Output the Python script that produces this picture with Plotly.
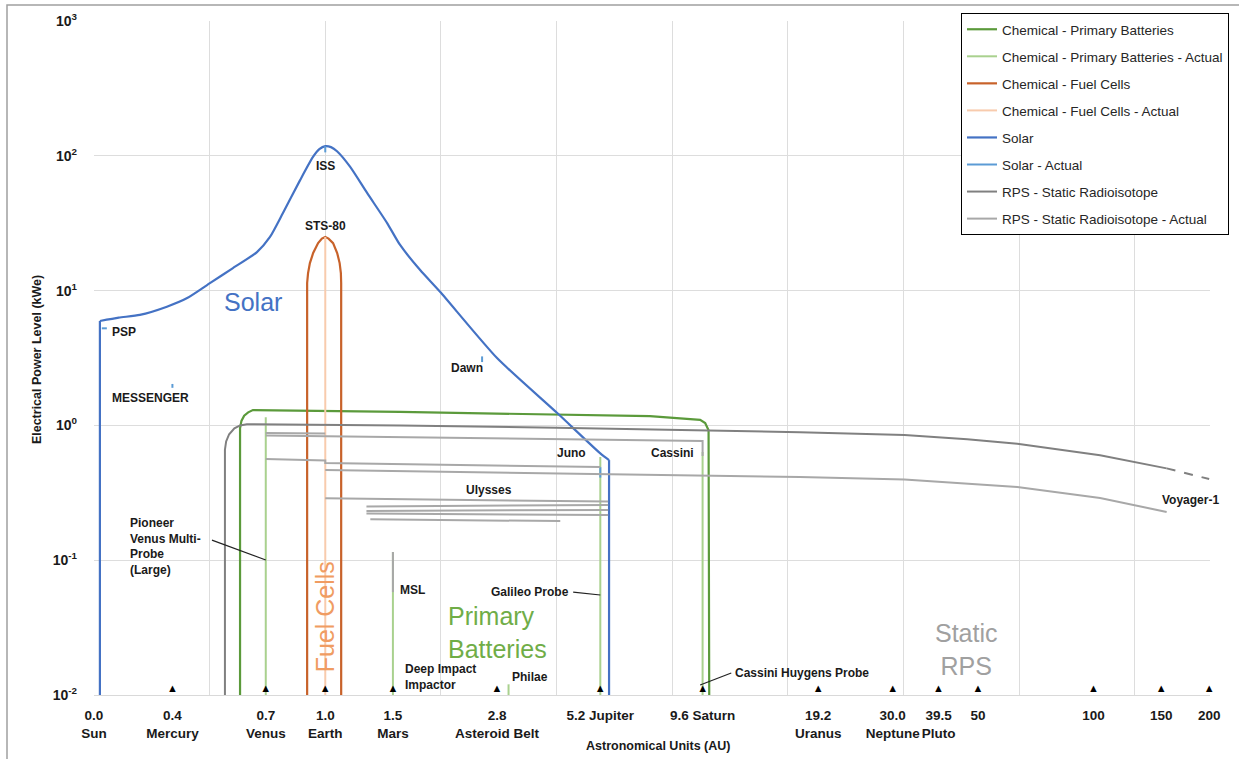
import plotly.graph_objects as go
import math

# ---------------- colours ----------------
C_BAT, C_BAT_A = "#5B9A3B", "#A9D18E"
C_FC, C_FC_A = "#C8622A", "#F8CBAD"
C_SOL, C_SOL_A = "#4472C4", "#5B9BD5"
C_RPS, C_RPS_A = "#808080", "#A8A8A8"
FONT = "Liberation Sans"

# ---------------- axes data ----------------
tick_au = [0.25, 0.4, 0.7, 1.0, 1.5, 2.8, 5.2, 9.6, 19.2, 30.0, 39.5, 50, 100, 150, 200]
tick_text = ["0.0<br>Sun", "0.4<br>Mercury", "0.7<br>Venus", "1.0<br>Earth", "1.5<br>Mars",
             "2.8<br>Asteroid Belt", "5.2 Jupiter", "9.6 Saturn", "19.2<br>Uranus",
             "30.0<br>Neptune", "39.5<br>Pluto", "50", "100", "150", "200"]
marker_au = tick_au[1:]
grid_au = [0.25, 0.5, 1, 2, 4, 8, 16, 32, 64, 128]
y_tick_vals = [0.01, 0.1, 1, 10, 100, 1000]
y_tick_text = ["10<sup>-2</sup>", "10<sup>-1</sup>", "10<sup>0</sup>", "10<sup>1</sup>",
               "10<sup>2</sup>", "10<sup>3</sup>"]

# ---------------- series ----------------
bat_au = [0.600, 0.600, 0.605, 0.615, 0.630, 0.648, 1.566, 4.01, 7.0, 9.46, 9.75, 9.95, 9.99]
bat_kwe = [0.01, 0.95, 1.08, 1.18, 1.25, 1.30, 1.26, 1.21, 1.17, 1.10, 1.04, 0.92, 0.01]

bat_act_au = [0.7, 0.7, None, 1.5, 1.5, None, 3.0, 3.0, None, 5.2, 5.2, None, 9.6, 9.6]
bat_act_kwe = [0.01, 1.15, None, 0.01, 0.115, None, 0.01, 0.012, None, 0.01, 0.583, None, 0.01, 0.635]

fc_au = [0.897, 0.897, 0.902, 0.912, 0.930, 0.958, 0.98, 1.0, 1.02, 1.048, 1.074, 1.090, 1.098, 1.10, 1.10]
fc_kwe = [0.01, 11.4, 13.5, 16.0, 19.0, 22.5, 24.3, 25.0, 24.3, 22.5, 19.0, 16.0, 13.5, 11.4, 0.01]

fc_act_au = [1.0, 1.0]
fc_act_kwe = [0.01, 25.0]

# solar: vertical drops at both ends and the smooth curve between them
sol_drop_au = [0.259, 0.259, None, 5.48, 5.48]
sol_drop_kwe = [0.01, 5.95, None, 0.553, 0.01]
sol_au = [0.259, 0.290, 0.329, 0.387, 0.437, 0.502, 0.575, 0.664, 0.718, 0.776, 0.86,
          0.929, 0.965, 1.0, 1.035, 1.073, 1.16, 1.285, 1.449, 1.566, 1.766, 1.99, 2.80, 4.01, 5.2, 5.48]
sol_kwe = [5.95, 6.3, 6.6, 7.6, 8.8, 11.4, 14.7, 19.3, 25.0, 37.6, 66.0,
           98.0, 112.0, 118.0, 116.0, 108.0, 83.0, 53.0, 31.7, 21.8, 14.2, 9.8, 3.16, 1.24, 0.62, 0.553]

sol_act_au = [0.262, 0.270, None, 0.4, 0.4, None, 1.0, 1.0, None, 2.56, 2.56, None, 5.2, 5.2]
sol_act_kwe = [5.25, 5.25, None, 1.90, 2.03, None, 106.0, 118.0, None, 2.95, 3.25, None, 0.41, 0.49]

rps_au = [0.548, 0.548, 0.552, 0.562, 0.580, 0.60, 0.625, 1.57, 4.0, 17.2, 32.2, 46.9, 63.3, 104, 155]
rps_kwe = [0.01, 0.66, 0.76, 0.86, 0.95, 1.0, 1.02, 1.0, 0.96, 0.89, 0.85, 0.79, 0.73, 0.60, 0.48]
rps_ext_au = [155, 200]
rps_ext_kwe = [0.48, 0.40]

rps_act_au = [0.7, 1.0, None,                      # Cassini Venus leg
              0.7, 9.6, 9.6, None,                 # Cassini
              0.7, 1.0, 1.0, 5.2, None,            # Galileo
              1.0, 17.2, 32.2, 63.3, 104, 155, None,  # Voyager-1
              1.0, 5.45, None,                     # Ulysses
              1.28, 5.45, None,
              1.28, 5.45, None,
              1.28, 5.45, None,
              1.31, 4.09, None,
              1.5, 1.5]                            # MSL
rps_act_kwe = [0.878, 0.871, None,
               0.841, 0.766, 0.593, None,
               0.563, 0.55, 0.526, 0.491, None,
               0.467, 0.414, 0.397, 0.349, 0.289, 0.228, None,
               0.288, 0.272, None,
               0.250, 0.257, None,
               0.232, 0.236, None,
               0.222, 0.216, None,
               0.201, 0.195, None,
               0.058, 0.115]

# callout leader lines
call_au = [0.507, 0.7, None, 4.42, 5.2, None, 9.46, 11.4]
call_kwe = [0.141, 0.1003, None, 0.058, 0.0552, None, 0.01186, 0.01456]

# ---------------- labels ----------------
lab_text = ["ISS", "STS-80", "PSP", "MESSENGER", "Dawn", "Juno", "Cassini", "Ulysses", "Voyager-1",
            "Pioneer<br>Venus Multi-<br>Probe<br>(Large)", "MSL", "Galileo Probe",
            "Deep Impact<br>Impactor", "Philae", "Cassini Huygens Probe"]
lab_au = [1.0, 1.0, 0.275, 0.275, 2.60, 4.37, 8.0, 2.67, 178.7, 0.306, 1.547, 4.37, 1.595, 3.03, 11.54]
lab_kwe = [84, 30.2, 4.93, 1.60, 2.67, 0.624, 0.624, 0.332, 0.28, 0.127, 0.0601, 0.058, 0.0136, 0.0136, 0.01456]
lab_anchor = ["center", "center", "left", "left", "right", "center", "center", "center", "center",
              "left", "left", "right", "left", "left", "left"]

big_text = ["Solar", "Primary<br>Batteries", "Static<br>RPS", "Fuel Cells"]
big_au = [0.648, 2.06, 46.6, 1.0]
big_kwe = [8.23, 0.0293, 0.0216, 0.0379]
big_color = [C_SOL, "#70AD47", "#A0A0A0", "#F09C62"]
big_anchor = ["center", "left", "center", "center"]
big_angle = [0, 0, 0, -90]

fig = go.Figure()

def line(x, y, name, color, width=2, dash=None, show=True, group=None, shape="linear"):
    fig.add_trace(go.Scatter(x=x, y=y, mode="lines", name=name, legendgroup=group or name,
                             showlegend=show, connectgaps=False, hoverinfo="skip",
                             line=dict(color=color, width=width, dash=dash, shape=shape,
                                       smoothing=0.6 if shape == "spline" else None)))

line(bat_au, bat_kwe, "Chemical - Primary Batteries", C_BAT, 2.2)
line(bat_act_au, bat_act_kwe, "Chemical - Primary Batteries - Actual", C_BAT_A, 2)
line(fc_au, fc_kwe, "Chemical - Fuel Cells", C_FC, 2.2)
line(fc_act_au, fc_act_kwe, "Chemical - Fuel Cells - Actual", C_FC_A, 2)
line(sol_au, sol_kwe, "Solar", C_SOL, 2.2, shape="spline")
line(sol_drop_au, sol_drop_kwe, "Solar drop", C_SOL, 2.2, show=False, group="Solar")
line(sol_act_au, sol_act_kwe, "Solar - Actual", C_SOL_A, 2)
line(rps_au, rps_kwe, "RPS - Static Radioisotope", C_RPS, 2)
line(rps_ext_au, rps_ext_kwe, "RPS ext", C_RPS, 2, dash="dash", show=False,
     group="RPS - Static Radioisotope")
line(rps_act_au, rps_act_kwe, "RPS - Static Radioisotope - Actual", C_RPS_A, 2)
line(call_au, call_kwe, "callouts", "#222222", 1.2, show=False, group="callouts")

# triangle markers on the distance axis
fig.add_trace(go.Scatter(x=marker_au, y=[y_tick_vals[0]] * len(marker_au), mode="text",
                         text=["▲"] * len(marker_au), textposition="top center",
                         textfont=dict(size=11, color="black"), cliponaxis=False,
                         showlegend=False, hoverinfo="skip"))

ann = []
for t, x, y, a in zip(lab_text, lab_au, lab_kwe, lab_anchor):
    ann.append(dict(x=math.log10(x), y=math.log10(y), text=t, showarrow=False, xanchor=a,
                    yanchor="middle", align="left",
                    font=dict(family=FONT, size=12, color="#1a1a1a", weight="bold")))
for t, x, y, c, a, ang in zip(big_text, big_au, big_kwe, big_color, big_anchor, big_angle):
    ann.append(dict(x=math.log10(x), y=math.log10(y), text=t, showarrow=False, xanchor=a,
                    yanchor="middle", align="left" if a == "left" else "center", textangle=ang,
                    font=dict(family=FONT, size=25, color=c)))
ann.append(dict(x=0.505, y=-0.075, xref="paper", yref="paper", text="Astronomical Units (AU)",
                showarrow=False, xanchor="center", yanchor="middle",
                font=dict(family=FONT, size=12.5, color="#1a1a1a", weight="bold")))
ann.append(dict(x=-0.051, y=0.497, xref="paper", yref="paper", text="Electrical Power Level (kWe)",
                showarrow=False, textangle=-90, xanchor="center", yanchor="middle",
                font=dict(family=FONT, size=12.5, color="#1a1a1a", weight="bold")))

fig.update_layout(
    width=1239, height=759,
    margin=dict(l=94, r=29, t=21, b=64, autoexpand=False),
    paper_bgcolor="white", plot_bgcolor="white",
    font=dict(family=FONT, color="#1a1a1a"),
    annotations=ann,
    legend=dict(x=0.7769, y=1.0119, xanchor="left", yanchor="top",
                bordercolor="black", borderwidth=1, bgcolor="white",
                font=dict(family=FONT, size=13.5, color="#262626"),
                traceorder="grouped", tracegroupgap=6.5, itemwidth=30),
    shapes=[dict(type="rect", xref="paper", yref="paper",
                 x0=(7 - 94) / 1116, x1=(1250 - 94) / 1116,
                 y0=(695 - 770) / 674, y1=(695 - 5) / 674,
                 line=dict(color="#A0A0A0", width=1.5), layer="below")],
    xaxis=dict(type="log", range=[math.log10(0.25), math.log10(201)],
               tickmode="array", tickvals=tick_au, ticktext=tick_text, ticks="",
               tickangle=0, automargin=False,
               showgrid=False, zeroline=False, showline=True, linecolor="#D9D9D9", linewidth=1,
               tickfont=dict(family=FONT, size=13.5, color="#1a1a1a", weight="bold"),
               ticklabelstandoff=8,
               minor=dict(tickmode="array", tickvals=grid_au, showgrid=True,
                          gridcolor="#DDDDDD", gridwidth=1, ticks="")),
    yaxis=dict(type="log", range=[-2, 3], tickmode="array", tickvals=y_tick_vals,
               ticktext=y_tick_text, ticks="", showgrid=True, gridcolor="#DDDDDD", gridwidth=1,
               zeroline=False, showline=False, automargin=False,
               tickfont=dict(family=FONT, size=14, color="#1a1a1a", weight="bold"),
               ticklabelstandoff=16),
)

fig.write_html("out.html")
